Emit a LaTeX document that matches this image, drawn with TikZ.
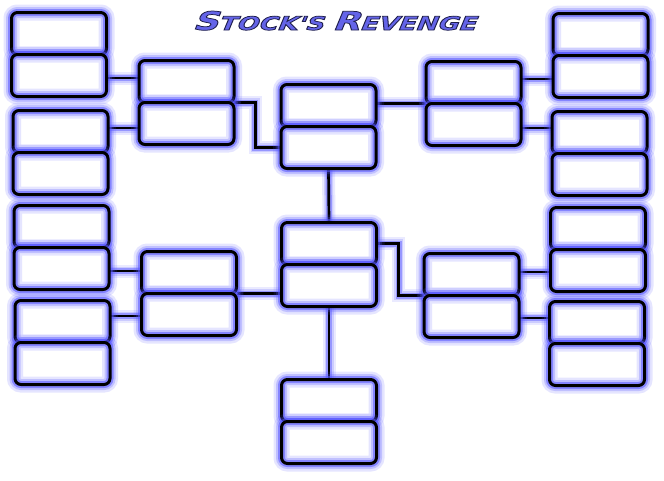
\documentclass[tikz,border=0pt]{standalone}
\usepackage{fontspec}
\usepackage{graphicx}
\usepackage{xcolor}
\usepackage{tikz}
\usetikzlibrary{positioning,backgrounds}

\newfontfamily\titlefont{DejaVu Sans}[BoldFeatures={FakeSlant=0.3}]
\definecolor{glowblue}{RGB}{85,85,255}
\definecolor{titleblue}{RGB}{100,100,232}
\newcommand{\brackettitle}{\resizebox{283pt}{19pt}{\titlefont\bfseries
  \special{pdf:literal direct 2 Tr 0.75 w 0.12 0.12 0.3 RG}%
  \fontsize{26}{26}\selectfont S\fontsize{19}{19}\selectfont TOCK'S
  \fontsize{26}{26}\selectfont R\fontsize{19}{19}\selectfont EVENGE%
  \special{pdf:literal direct 0 Tr}}}

\begin{document}
\begin{tikzpicture}[x=1pt,y=-1pt]
  \tikzstyle{slot}=[rectangle,rounded corners=6pt,minimum width=95pt,minimum height=42pt,inner sep=0pt,fill=white,
    postaction={draw=glowblue,line width=16pt,opacity=.15},
    postaction={draw=glowblue,line width=11pt,opacity=.25},
    postaction={draw=glowblue,line width=7pt,opacity=.55},
    postaction={draw=black,line width=3pt}]
  \tikzstyle{link}=[draw=black,line width=2.7pt,
    preaction={draw=glowblue,line width=13pt,opacity=.12},
    preaction={draw=glowblue,line width=9pt,opacity=.2},
    preaction={draw=glowblue,line width=6pt,opacity=.45}]

  % title
  \node[anchor=base west,inner sep=0pt,text=titleblue] (title) at (192,30) {\brackettitle};

  % slots, two by two
  \foreach \a/\b/\x/\t in {L1/L2/59/11, L3/L4/60.5/109, L5/L6/61.5/204, L7/L8/62.5/299,
      LA1/LA2/186.5/59, LB1/LB2/189/250,
      C1/C2/328.5/83, D1/D2/329/221, F1/F2/329/378,
      RA1/RA2/473.5/60, RB1/RB2/471.5/252,
      R1/R2/600.5/12, R3/R4/599.5/110, R5/R6/598/206, R7/R8/597/300} {
    \node[slot] (\a) at (\x,\t+22.5) {};
    \node[slot] (\b) at (\x,\t+64.5) {};
  }

  \begin{pgfonlayer}{background}
    \fill[white] (0,0) rectangle (664,480);

    % left half
    \draw[link] ([yshift=-2.5pt]L2.east) -- ([yshift=-2.5pt]L2.east -| LA1.west);
    \draw[link] ([yshift=3.5pt]L3.east) -- ([yshift=3.5pt]L3.east -| LA2.west);
    \draw[link] ([yshift=-2.5pt]L6.east) -- ([yshift=-2.5pt]L6.east -| LB1.west);
    \draw[link] ([yshift=5.5pt]L7.east) -- ([yshift=5.5pt]L7.east -| LB2.west);
    \draw[link] (LA1.south east) -- ++(21,0) |- (C2.west);
    \draw[link] (LB1.south east) -- (LB1.south east -| D2.west);

    % middle
    \draw[link] (C2.south) -- (D1.north);
    \draw[link] (D2.south) -- (F1.north);

    % right half
    \draw[link] (RA1.south west) -- (RA1.south west -| C1.east);
    \draw[link] (D1.east) -- ++(22,0) |- (RB1.south west);
    \draw[link] ([yshift=-2.5pt]R2.west) -- ([yshift=-2.5pt]R2.west -| RA1.east);
    \draw[link] ([yshift=-3.5pt]RA2.east) -- ([yshift=-3.5pt]RA2.east -| R3.west);
    \draw[link] ([yshift=-1.5pt]R6.west) -- ([yshift=-1.5pt]R6.west -| RB1.east);
    \draw[link] ([yshift=-1.5pt]RB2.east) -- ([yshift=-1.5pt]RB2.east -| R7.west);
  \end{pgfonlayer}
\end{tikzpicture}
\end{document}
